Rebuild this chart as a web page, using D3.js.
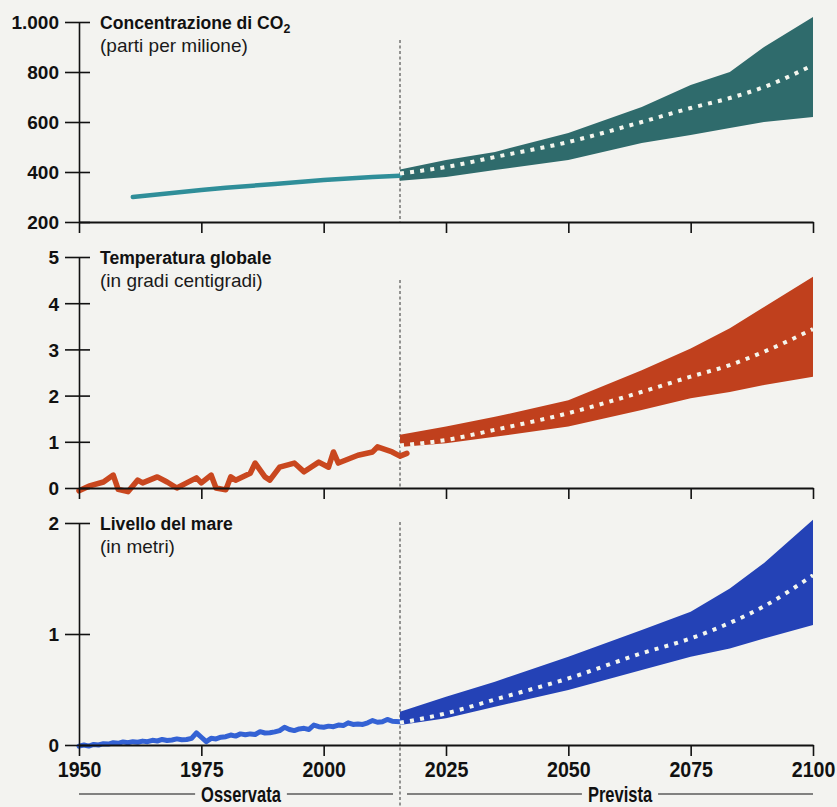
<!DOCTYPE html>
<html>
<head>
<meta charset="utf-8">
<script src="https://cdn.jsdelivr.net/npm/d3@7"></script>
<style>
  html, body { margin: 0; padding: 0; background: #f3f3f0; }
  svg { display: block; }
  text { font-family: "Liberation Sans", Arial, sans-serif; }
</style>
</head>
<body>
<svg id="chart" width="837" height="807"></svg>
<script>
// ---------------- DATA ----------------
const xTickYears = [1950, 1975, 2000, 2025, 2050, 2075, 2100];
const xTickLabels = ["1950", "1975", "2000", "2025", "2050", "2075", "2100"];
const dividerYear = 2015.6;
const periodLabels = ["Osservata", "Prevista"];

// CO2 concentration (ppm)
const co2Ticks = [200, 400, 600, 800, 1000];
const co2TickLabels = ["200", "400", "600", "800", "1.000"];
const co2ObsYears = [1961, 1970, 1975, 1980, 1990, 2000, 2010, 2015.6];
const co2ObsValues = [300, 318, 328, 337, 352, 368, 380, 385];

// Temperature (°C)
const tempTicks = [0, 1, 2, 3, 4, 5];
const tempTickLabels = ["0", "1", "2", "3", "4", "5"];
const tempObsYears = [1950, 1952, 1955, 1957, 1958, 1960, 1962, 1963, 1966, 1968, 1970, 1972, 1974, 1975, 1977, 1978, 1980, 1981, 1982, 1985, 1986, 1988, 1989, 1991, 1994, 1996, 1999, 2001, 2002, 2003, 2007, 2010, 2011, 2014, 2015.6, 2017];
const tempObsValues = [-0.06, 0.04, 0.13, 0.28, -0.03, -0.08, 0.17, 0.11, 0.24, 0.13, 0.0, 0.11, 0.22, 0.11, 0.28, 0.0, -0.04, 0.24, 0.17, 0.32, 0.54, 0.24, 0.17, 0.45, 0.54, 0.35, 0.56, 0.45, 0.78, 0.54, 0.71, 0.78, 0.89, 0.78, 0.69, 0.75];

// Sea level (m)
const seaTicks = [0, 1, 2];
const seaTickLabels = ["0", "1", "2"];
const seaObsYears = [1950, 1951, 1952, 1953, 1954, 1955, 1956, 1957, 1958, 1959, 1960, 1961, 1962, 1963, 1964, 1965, 1966, 1967, 1968, 1969, 1970, 1971, 1972, 1973, 1974, 1975, 1976, 1977, 1978, 1979, 1980, 1981, 1982, 1983, 1984, 1985, 1986, 1987, 1988, 1989, 1990, 1991, 1992, 1993, 1994, 1995, 1996, 1997, 1998, 1999, 2000, 2001, 2002, 2003, 2004, 2005, 2006, 2007, 2008, 2009, 2010, 2011, 2012, 2013, 2014, 2015.6];
const seaObsValues = [-0.01, 0.0, -0.01, 0.005, 0.0, 0.012, 0.008, 0.02, 0.015, 0.028, 0.02, 0.03, 0.025, 0.035, 0.03, 0.042, 0.036, 0.05, 0.04, 0.045, 0.055, 0.048, 0.05, 0.06, 0.11, 0.07, 0.03, 0.06, 0.055, 0.07, 0.075, 0.09, 0.08, 0.1, 0.092, 0.1, 0.095, 0.12, 0.108, 0.11, 0.118, 0.13, 0.16, 0.14, 0.13, 0.145, 0.15, 0.14, 0.18, 0.165, 0.16, 0.17, 0.165, 0.18, 0.175, 0.2, 0.185, 0.19, 0.185, 0.2, 0.22, 0.205, 0.21, 0.23, 0.215, 0.21];

// Projections (shared years)
const projYears = [2015.6, 2025, 2035, 2050, 2065, 2075, 2083, 2090, 2100];
const co2Low  = [365, 380, 408, 448, 516, 548, 576, 600, 620];
const co2Mid  = [394, 420, 460, 520, 600, 656, 696, 740, 828];
const co2High = [410, 448, 480, 556, 660, 748, 800, 900, 1020];
const tempLow  = [0.89, 0.97, 1.11, 1.33, 1.69, 1.94, 2.08, 2.23, 2.41];
const tempMid  = [0.92, 1.04, 1.26, 1.62, 2.08, 2.41, 2.66, 2.95, 3.44];
const tempHigh = [1.15, 1.33, 1.54, 1.90, 2.55, 3.02, 3.46, 3.92, 4.57];
const seaLow  = [0.18, 0.24, 0.345, 0.495, 0.676, 0.795, 0.87, 0.96, 1.08];
const seaMid  = [0.20, 0.285, 0.41, 0.60, 0.826, 0.96, 1.10, 1.25, 1.53];
const seaHigh = [0.30, 0.435, 0.57, 0.795, 1.036, 1.20, 1.41, 1.64, 2.03];

// ---------------- CHART ----------------
const svg = d3.select("#chart");
svg.append("rect").attr("width", 837).attr("height", 807).attr("fill", "#f3f3f0");

const x = d3.scaleLinear().domain([1950, 2100]).range([79, 813]);

const panels = [
  { title: "Concentrazione di CO", sub: "(parti per milione)", subscript: "2",
    domain: [200, 1000], range: [222, 22], ticks: co2Ticks, tickLabels: co2TickLabels,
    obsY: co2ObsYears, obsV: co2ObsValues, low: co2Low, mid: co2Mid, high: co2High,
    band: "#2f6b6c", line: "#2f8e99", lw: 4.5, dividerTop: 40, dividerBottom: 222 },
  { title: "Temperatura globale", sub: "(in gradi centigradi)",
    domain: [0, 5], range: [488, 257], ticks: tempTicks, tickLabels: tempTickLabels,
    obsY: tempObsYears, obsV: tempObsValues, low: tempLow, mid: tempMid, high: tempHigh,
    band: "#c0401d", line: "#c9471f", lw: 5.5, dividerTop: 280, dividerBottom: 488 },
  { title: "Livello del mare", sub: "(in metri)",
    domain: [0, 2], range: [745, 523], ticks: seaTicks, tickLabels: seaTickLabels,
    obsY: seaObsYears, obsV: seaObsValues, low: seaLow, mid: seaMid, high: seaHigh,
    band: "#2442b6", line: "#3462d4", lw: 5, dividerTop: 522, dividerBottom: 807, last: true }
];

panels.forEach(p => {
  const y = d3.scaleLinear().domain(p.domain).range(p.range);
  const g = svg.append("g");

  // divider dashed line
  g.append("line")
    .attr("x1", x(dividerYear)).attr("x2", x(dividerYear))
    .attr("y1", p.dividerTop).attr("y2", p.dividerBottom)
    .attr("stroke", "#333").attr("stroke-width", 1).attr("stroke-dasharray", "3,2.5");

  // projection band
  const bandData = projYears.map((yr, i) => ({ yr, lo: p.low[i], hi: p.high[i], mid: p.mid[i] }));
  g.append("path").datum(bandData)
    .attr("d", d3.area().x(d => x(d.yr)).y0(d => y(d.lo)).y1(d => y(d.hi)).curve(d3.curveLinear))
    .attr("fill", p.band);

  // observed line
  const obs = p.obsY.map((yr, i) => ({ yr, v: p.obsV[i] }));
  g.append("path").datum(obs)
    .attr("d", d3.line().x(d => x(d.yr)).y(d => y(d.v)))
    .attr("fill", "none").attr("stroke", p.line).attr("stroke-width", p.lw)
    .attr("stroke-linejoin", "round").attr("stroke-linecap", "round");

  // median dotted
  g.append("path").datum(bandData)
    .attr("d", d3.line().x(d => x(d.yr)).y(d => y(d.mid)).curve(d3.curveMonotoneX))
    .attr("fill", "none").attr("stroke", "#f4f6ee").attr("stroke-width", 4)
    .attr("stroke-dasharray", "4,6.2");

  // x axis
  const xAxis = d3.axisBottom(x).tickValues(xTickYears).tickSize(11).tickSizeOuter(0)
    .tickFormat((d, i) => p.last ? xTickLabels[i] : "");
  const xa = g.append("g").attr("transform", `translate(0,${p.range[0]})`).call(xAxis);
  xa.select(".domain").attr("stroke", "#111").attr("stroke-width", 2);
  xa.selectAll(".tick line").attr("stroke", "#111").attr("stroke-width", 1.6);
  xa.selectAll(".tick text")
    .attr("font-family", "'Liberation Sans', Arial, sans-serif")
    .attr("font-weight", "bold").attr("font-size", 22.5)
    .attr("fill", "#111").attr("y", 32).attr("dy", 0)
    .attr("transform", "scale(0.87,1)");

  // y axis
  const yAxis = d3.axisLeft(y).tickValues(p.ticks).tickSize(0).tickSizeOuter(0)
    .tickFormat((d, i) => p.tickLabels[i]);
  const ya = g.append("g").attr("transform", `translate(${x(1950)},0)`).call(yAxis);
  ya.select(".domain").attr("stroke", "#111").attr("stroke-width", 1.6);
  ya.selectAll(".tick line").attr("x1", -14).attr("x2", 11).attr("stroke", "#111").attr("stroke-width", 1.6);
  ya.selectAll(".tick text")
    .attr("font-family", "'Liberation Sans', Arial, sans-serif").attr("font-weight", "bold")
    .attr("font-size", 19).attr("fill", "#111").attr("x", -20).attr("dy", "0.36em");

  // titles
  const t = g.append("text")
    .attr("transform", `translate(100,${p.range[1] + 7}) scale(0.95,1)`)
    .attr("font-weight", "bold").attr("font-size", 18.5).attr("fill", "#111").text(p.title);
  if (p.subscript) {
    t.append("tspan").attr("font-size", 13).attr("dy", 4).text(p.subscript);
  }
  g.append("text").attr("x", 100).attr("y", p.range[1] + 30)
    .attr("font-size", 19).attr("fill", "#1a1a1a").text(p.sub);
});

// bottom period labels
const by = 802, ly = 794, sx = 0.75;
const periods = [
  { label: periodLabels[0], x0: x(1950), x1: x(dividerYear) - 7, cx: 241 },
  { label: periodLabels[1], x0: x(dividerYear) + 7, x1: x(2100), cx: 620 }
];
periods.forEach(pd => {
  const txt = svg.append("text")
    .attr("transform", `translate(${pd.cx},${by}) scale(${sx},1)`)
    .attr("text-anchor", "middle").attr("font-weight", "bold").attr("font-size", 22)
    .attr("fill", "#111").text(pd.label);
  const w = txt.node().getComputedTextLength() * sx;
  svg.append("line").attr("x1", pd.x0).attr("x2", pd.cx - w / 2 - 6).attr("y1", ly).attr("y2", ly)
    .attr("stroke", "#111").attr("stroke-width", 1.2);
  svg.append("line").attr("x1", pd.cx + w / 2 + 6).attr("x2", pd.x1).attr("y1", ly).attr("y2", ly)
    .attr("stroke", "#111").attr("stroke-width", 1.2);
});
</script>
</body>
</html>
